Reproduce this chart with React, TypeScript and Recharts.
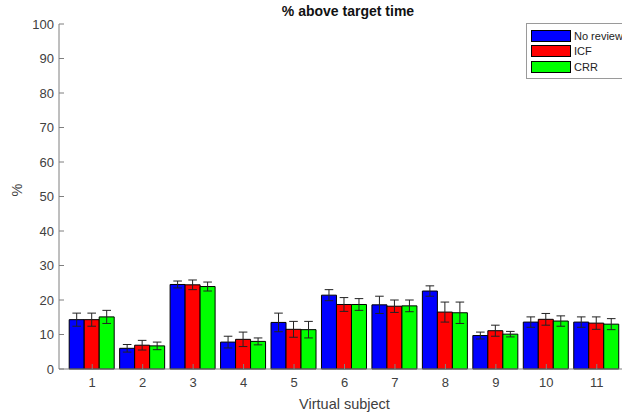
import { BarChart, Bar, XAxis, YAxis, ErrorBar, Label } from "recharts";

const subjects = ["1", "2", "3", "4", "5", "6", "7", "8", "9", "10", "11"];
const noReview = [14.3, 6.0, 24.5, 7.8, 13.5, 21.4, 18.6, 22.6, 9.7, 13.6, 13.6];
const noReviewErr = [1.9, 1.1, 1.0, 1.7, 2.7, 1.6, 2.5, 1.5, 1.0, 1.5, 1.5];
const icf = [14.3, 6.9, 24.4, 8.6, 11.5, 18.7, 18.2, 16.5, 11.1, 14.4, 13.3];
const icfErr = [1.9, 1.4, 1.4, 2.1, 2.3, 2.0, 1.8, 2.9, 1.6, 1.7, 1.8];
const crr = [15.1, 6.7, 23.9, 8.0, 11.4, 18.7, 18.3, 16.3, 10.1, 13.9, 13.0];
const crrErr = [1.9, 1.1, 1.3, 1.0, 2.4, 1.7, 1.7, 3.1, 0.8, 1.5, 1.6];
const yTicks = [0, 10, 20, 30, 40, 50, 60, 70, 80, 90, 100];

const series = [
  { key: "noReview", err: "noReviewErr", name: "No review", color: "#0000ff" },
  { key: "icf", err: "icfErr", name: "ICF", color: "#ff0000" },
  { key: "crr", err: "crrErr", name: "CRR", color: "#00ff00" },
];

const data = subjects.map((s, i) => ({
  subject: s,
  noReview: noReview[i],
  noReviewErr: noReviewErr[i],
  icf: icf[i],
  icfErr: icfErr[i],
  crr: crr[i],
  crrErr: crrErr[i],
}));

const FONT = "Liberation Sans, Arial, sans-serif";
const AXIS = "#7f7f7f";
const TEXT = "#404040";

// MATLAB-style boxed legend; sits outside the chart so it doesn't steal plot width
function BoxLegend() {
  return (
    <div
      style={{
        position: "absolute",
        left: 526,
        top: 23,
        border: "1px solid #9a9a9a",
        background: "#fff",
        padding: "4px 4px 3px 4px",
        width: 110,
        fontFamily: FONT,
        fontSize: 11,
        color: "#222",
      }}
    >
      {series.map((s) => (
        <div key={s.key} style={{ display: "flex", alignItems: "center", height: 15.5 }}>
          <span
            style={{
              display: "inline-block",
              width: 38,
              height: 10,
              background: s.color,
              border: "1px solid #000",
              marginRight: 3,
            }}
          />
          <span>{s.name}</span>
        </div>
      ))}
    </div>
  );
}

export default function App() {
  return (
    <div
      style={{
        position: "fixed",
        left: 0,
        top: 0,
        width: 622,
        height: 416,
        overflow: "hidden",
        background: "#fff",
      }}
    >
      <div
        style={{
          position: "absolute",
          left: 0,
          width: 696,
          top: 3,
          textAlign: "center",
          fontFamily: FONT,
          fontWeight: 700,
          fontSize: 14,
          color: "#111",
        }}
      >
        % above target time
      </div>
      <BarChart
        width={640}
        height={416}
        data={data}
        margin={{ top: 24, right: 0, bottom: 17, left: 0 }}
        barCategoryGap={2.2}
        barGap={0}
        style={{ fontFamily: FONT }}
      >
        <YAxis
          width={59}
          domain={[0, 100]}
          ticks={yTicks}
          interval={0}
          stroke={AXIS}
          tickSize={-5}
          tickMargin={10}
          tick={{ fill: TEXT, fontSize: 13 }}
        >
          <Label value="%" angle={-90} position="insideLeft" offset={17} style={{ fill: TEXT, fontSize: 14.5 }} />
        </YAxis>
        <XAxis
          dataKey="subject"
          height={30}
          padding={{ left: 8, right: 18 }}
          stroke={AXIS}
          tickSize={-5}
          tickMargin={14}
          interval={0}
          tick={{ fill: TEXT, fontSize: 13 }}
        >
          <Label value="Virtual subject" position="insideBottom" offset={-10} dx={-5} style={{ fill: TEXT, fontSize: 14.5 }} />
        </XAxis>
        {series.map((s) => (
          <Bar
            key={s.key}
            dataKey={s.key}
            name={s.name}
            fill={s.color}
            stroke="#000"
            strokeWidth={1}
            isAnimationActive={false}
          >
            {/* ErrorBar width is the half-width of the cap */}
            <ErrorBar dataKey={s.err} width={4.3} stroke="#222" strokeWidth={1} isAnimationActive={false} />
          </Bar>
        ))}
      </BarChart>
      <BoxLegend />
    </div>
  );
}
